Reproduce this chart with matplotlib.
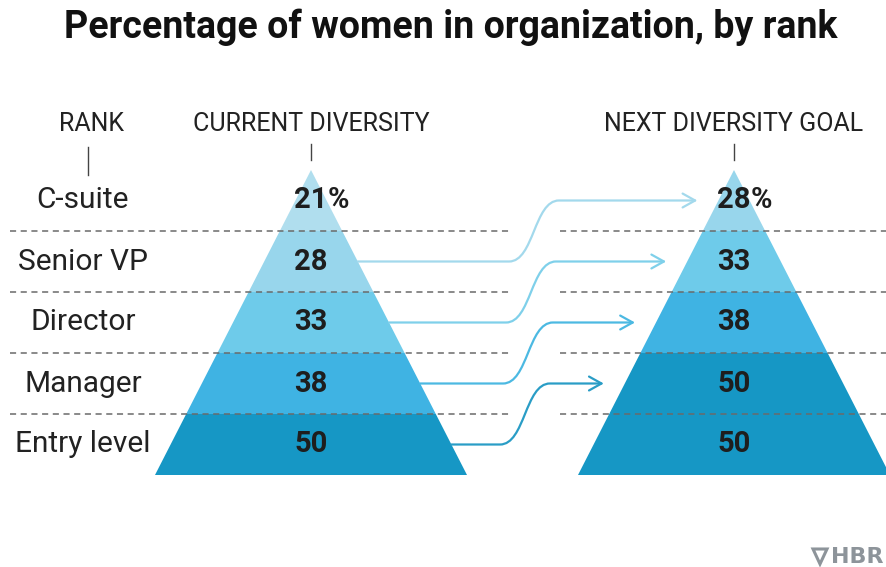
import numpy as np
from matplotlib import pyplot as plt
from matplotlib import font_manager
from matplotlib.path import Path
from matplotlib.patches import Polygon, FancyArrowPatch

# data
ranks = ['C-suite', 'Senior VP', 'Director', 'Manager', 'Entry level']
current = [21, 28, 33, 38, 50]
goal = [28, 33, 38, 50, 50]
headers = ['RANK', 'CURRENT DIVERSITY', 'NEXT DIVERSITY GOAL']
title = 'Percentage of women in organization, by rank'

# colour per value
shade = {21: '#b0deee', 28: '#98d6ec', 33: '#6ecbea', 38: '#3fb3e3', 50: '#1697c5'}
arrow_cols = ['#a3d9ec', '#7fd0ea', '#4cb9e2', '#2a9dc6']

names = {f.name for f in font_manager.fontManager.ttflist}
cond = 'Liberation Sans Narrow' if 'Liberation Sans Narrow' in names else 'Roboto'

W, H = 886, 567
fig = plt.figure(figsize=(W / 100, H / 100), dpi=100)
ax = fig.add_axes([0, 0, 1, 1])
ax.set_xlim(0, W)
ax.set_ylim(H, 0)
ax.axis('off')

top, row_h = 170, 61
bottom = top + row_h * len(ranks)
half = 156
left_cx, right_cx = 311, 734
label_x = 83


def half_width(y):
    return half * (y - top) / (bottom - top)


def pyramid(cx, values):
    for i, v in enumerate(values):
        y0 = top + i * row_h
        y1 = y0 + row_h
        pts = [(cx - half_width(y0), y0), (cx + half_width(y0), y0),
               (cx + half_width(y1), y1), (cx - half_width(y1), y1)]
        ax.add_patch(Polygon(pts, closed=True, facecolor=shade[v],
                             edgecolor='none', zorder=1))
        yc = y0 + row_h / 2
        t = ax.text(cx, yc, str(v), ha='center', va='center', fontsize=21,
                    family=cond, weight='bold', color='#1e1e1e', zorder=4)
        if i == 0:
            ax.annotate('%', xy=(1, 0.5), xycoords=t, va='center', ha='left',
                        fontsize=21, family=cond, weight='bold', color='#1e1e1e',
                        zorder=4)


pyramid(left_cx, current)
pyramid(right_cx, goal)

# dashed row separators
for i in range(1, len(ranks)):
    y = top + i * row_h
    ax.plot([10, 512], [y, y], color='#6a6a6a', lw=1.1, ls=(0, (4, 3)), zorder=3)
    ax.plot([560, W], [y, y], color='#6a6a6a', lw=1.1, ls=(0, (4, 3)), zorder=3)

# rank labels
for i, r in enumerate(ranks):
    ax.text(label_x, top + i * row_h + row_h / 2, r, ha='center', va='center',
            fontsize=21.5, family=cond, color='#222222')

# headers and tick marks
for x, h in zip([92, left_cx, right_cx], headers):
    ax.text(x, 124, h, ha='center', va='center', fontsize=18, family=cond,
            color='#222222')
ax.plot([88, 88], [147, 175], color='#444444', lw=1)
ax.plot([left_cx, left_cx], [144, 160], color='#444444', lw=1)
ax.plot([right_cx, right_cx], [144, 160], color='#444444', lw=1)

# arrows from current rank to the next goal row
for i in range(1, len(ranks)):
    ys = top + i * row_h + row_h / 2
    ye = ys - row_h
    xs = left_cx + half_width(ys)
    xe = right_cx - half_width(ye) - 21
    xb = 512 - 3 * i
    verts = [(xs, ys), (xb, ys), (xb + 25, ys), (xb + 25, ye), (xb + 50, ye), (xe, ye)]
    codes = [Path.MOVETO, Path.LINETO, Path.CURVE4, Path.CURVE4, Path.CURVE4, Path.LINETO]
    ax.add_patch(FancyArrowPatch(path=Path(verts, codes),
                                 arrowstyle='->,head_length=9,head_width=5',
                                 color=arrow_cols[i - 1], lw=1.6, zorder=2))

ax.text(451, 27, title, ha='center', va='center', fontsize=27, family=cond,
        weight='bold', color='#111111')

# logo
ax.add_patch(Polygon([(813, 549), (827, 549), (820, 564)], closed=True,
                     facecolor='none', edgecolor='#8d949a', lw=2.2))
ax.text(831, 557, 'HBR', ha='left', va='center', fontsize=16, weight='bold',
        family='DejaVu Sans', color='#8d949a')

fig.savefig('out.png', dpi=100)
